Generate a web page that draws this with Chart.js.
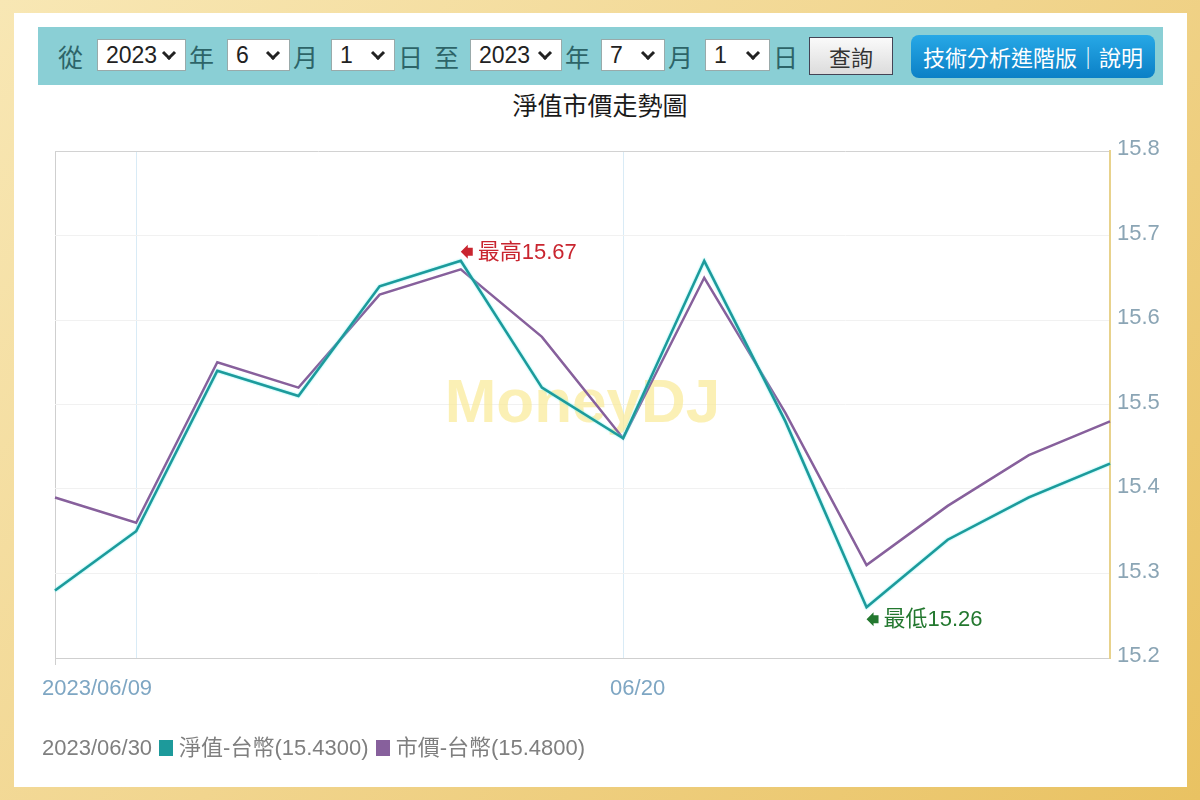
<!DOCTYPE html>
<html>
<head>
<meta charset="utf-8">
<script src="https://cdn.jsdelivr.net/npm/chart.js@4.4.0/dist/chart.umd.min.js"></script>
<style>
  html, body { margin: 0; padding: 0; }
  body {
    width: 1200px; height: 800px; position: relative; overflow: hidden;
    background: linear-gradient(135deg, #f8e7b4 0%, #f1d58e 50%, #e9c262 100%);
    font-family: 'Liberation Sans', Arial, 'Noto Sans CJK TC', sans-serif;
  }
  .page { position: absolute; left: 14px; top: 13px; width: 1173px; height: 774px; background: #fff; }
  .bar { position: absolute; left: 38px; top: 27px; width: 1125px; height: 58px; background: #8acfd5; }
  .lbl { position: absolute; top: 41px; font-size: 25px; line-height: 30px; color: #2d6468;
         font-family: 'Noto Sans CJK TC', sans-serif; }
  .sel { position: absolute; top: 39px; height: 32px; background: #fff; border: 1px solid #9aa; box-sizing: border-box;
         font-size: 23px; line-height: 31px; color: #222; padding-left: 8px; }
  .sel i { position: absolute; right: 11px; top: 8px; width: 7px; height: 7px; border-right: 3px solid #222;
           border-bottom: 3px solid #222; transform: rotate(45deg); }
  .btn { position: absolute; left: 809px; top: 37px; width: 84px; height: 38px; box-sizing: border-box;
         border: 1px solid #445; background: linear-gradient(#fafafa, #dcdcdc); text-align: center;
         font: 22px/36px 'Noto Sans CJK TC', sans-serif; color: #333; }
  .blue { position: absolute; left: 911px; top: 35px; width: 244px; height: 43px; border-radius: 8px;
          background: linear-gradient(#27a8e6, #0b80c6); color: #fff; text-align: center;
          font: 22px/43px 'Noto Sans CJK TC', sans-serif; }
  .title { position: absolute; left: 0; width: 1200px; top: 86px; text-align: center; font-size: 25px; color: #1a1a1a;
           font-family: 'Noto Sans CJK TC', sans-serif; font-weight: 400; }
  .legend { position: absolute; left: 42px; top: 729px; font-size: 22px; color: #7f7f7f; white-space: nowrap;
            font-family: 'Liberation Sans', Arial, 'Noto Sans CJK TC', sans-serif; }
  .legend b { display: inline-block; width: 14px; height: 16px; margin: 0 6px 0 7px; vertical-align: -1px; }
  .wrap { position: absolute; left: 0; top: 0; width: 1200px; height: 800px; }
</style>
</head>
<body>
<div class="page"></div>
<div class="bar"></div>
<div class="lbl" style="left:58px">從</div>
<div class="sel" style="left:97px;width:89px">2023<i></i></div>
<div class="lbl" style="left:189px">年</div>
<div class="sel" style="left:227px;width:63px">6<i></i></div>
<div class="lbl" style="left:293px">月</div>
<div class="sel" style="left:331px;width:64px">1<i></i></div>
<div class="lbl" style="left:398px">日</div>
<div class="lbl" style="left:434px">至</div>
<div class="sel" style="left:470px;width:92px">2023<i></i></div>
<div class="lbl" style="left:565px">年</div>
<div class="sel" style="left:601px;width:64px">7<i></i></div>
<div class="lbl" style="left:668px">月</div>
<div class="sel" style="left:705px;width:65px">1<i></i></div>
<div class="lbl" style="left:773px">日</div>
<div class="btn">查詢</div>
<div class="blue">技術分析進階版｜說明</div>
<div class="title">淨值市價走勢圖</div>
<div class="wrap"><canvas id="chart"></canvas></div>
<div class="legend" id="legend"></div>

<script>
const dates = ['2023/06/09', '06/12', '06/13', '06/14', '06/15', '06/16', '06/19',
               '06/20', '06/21', '06/26', '06/27', '06/28', '06/29', '2023/06/30'];
const shownTicks = { 0: '2023/06/09', 7: '06/20' };
const nav = [15.28, 15.35, 15.54, 15.51, 15.64, 15.67, 15.52, 15.46, 15.67, 15.48, 15.26, 15.34, 15.39, 15.43];
const market = [15.39, 15.36, 15.55, 15.52, 15.63, 15.66, 15.58, 15.46, 15.65, 15.49, 15.31, 15.38, 15.44, 15.48];
const yTicks = [15.2, 15.3, 15.4, 15.5, 15.6, 15.7, 15.8];

const navColor = '#1d9a9b';
const mktColor = '#87609c';
const fontFamily = "'Liberation Sans', Arial, 'Noto Sans CJK TC', sans-serif";

// legend line under the chart
const last = dates.length - 1;
document.getElementById('legend').innerHTML =
  dates[last] + '<b style="background:' + navColor + '"></b>淨值-台幣(' + nav[last].toFixed(4) + ')' +
  '<b style="background:' + mktColor + '"></b>市價-台幣(' + market[last].toFixed(4) + ')';

// watermark, glow on the NAV line, high/low marks
const extras = {
  id: 'extras',
  beforeDatasetsDraw(chart) {
    const { ctx, chartArea: a } = chart;
    ctx.save();
    ctx.font = 'bold 62px ' + fontFamily;
    ctx.fillStyle = 'rgba(250, 234, 150, 0.7)';
    ctx.textAlign = 'center';
    ctx.textBaseline = 'middle';
    ctx.fillText('MoneyDJ', (a.left + a.right) / 2, (a.top + a.bottom) / 2);
    ctx.restore();
  },
  beforeDatasetDraw(chart, args) {
    chart.ctx.save();
    if (args.index === 0) {
      chart.ctx.shadowColor = 'rgba(90, 235, 235, 0.9)';
      chart.ctx.shadowBlur = 2;
    }
  },
  afterDatasetDraw(chart) {
    chart.ctx.restore();
  },
  afterDatasetsDraw(chart) {
    const { ctx, scales } = chart;
    const hi = nav.indexOf(Math.max(...nav));
    const lo = nav.indexOf(Math.min(...nav));
    const mark = (i, dy, color, label) => {
      const x = scales.x.getPixelForValue(i);
      const y = scales.y.getPixelForValue(nav[i]) + dy;
      ctx.save();
      ctx.fillStyle = color;
      ctx.beginPath();
      ctx.moveTo(x, y);
      ctx.lineTo(x + 7, y - 7);
      ctx.lineTo(x + 7, y - 4);
      ctx.lineTo(x + 12, y - 4);
      ctx.lineTo(x + 12, y + 4);
      ctx.lineTo(x + 7, y + 4);
      ctx.lineTo(x + 7, y + 7);
      ctx.closePath();
      ctx.fill();
      ctx.font = '22px ' + fontFamily;
      ctx.textBaseline = 'middle';
      ctx.fillText(label + nav[i].toFixed(2), x + 17, y + 1);
      ctx.restore();
    };
    mark(hi, -9, '#c9252f', '最高');
    mark(lo, 12, '#23782f', '最低');
  }
};

new Chart(document.getElementById('chart'), {
  type: 'line',
  data: {
    labels: dates,
    datasets: [
      { label: '淨值-台幣', data: nav, borderColor: navColor, borderWidth: 2.5, pointRadius: 0, tension: 0 },
      { label: '市價-台幣', data: market, borderColor: mktColor, borderWidth: 2.5, pointRadius: 0, tension: 0 }
    ]
  },
  options: {
    responsive: true,
    maintainAspectRatio: false,
    animation: false,
    layout: { padding: { left: 55, top: 151, right: 0, bottom: 0 } },
    plugins: { legend: { display: false }, tooltip: { enabled: false } },
    scales: {
      x: {
        offset: false,
        afterFit: s => { s.height = 142; },
        border: { color: '#cfcfcf', width: 1 },
        grid: {
          color: c => c.index === 0 ? '#cfcfcf' : (c.index === 1 || c.index === 7 ? '#d9ebf6' : 'transparent'),
          tickColor: c => c.index === 0 ? '#cfcfcf' : 'transparent',
          tickLength: 7
        },
        ticks: {
          autoSkip: false, maxRotation: 0, align: 'start', labelOffset: -13, padding: 11,
          color: '#7ea6c3', font: { size: 22, family: fontFamily },
          callback: (v, i) => shownTicks[i] || ''
        }
      },
      y: {
        position: 'right',
        min: 15.2,
        max: 15.8,
        afterFit: s => { s.width = 90; },
        afterBuildTicks: s => { s.ticks = yTicks.map(v => ({ value: v })); },
        border: { color: '#e8d28c', width: 2 },
        grid: {
          drawTicks: false,
          color: c => c.tick.value >= 15.79 ? '#d2d2d2' : (c.tick.value <= 15.21 ? 'transparent' : '#f1f1f1')
        },
        ticks: {
          padding: 7, labelOffset: -2, color: '#8ba5b5', font: { size: 22, family: fontFamily },
          callback: v => v.toFixed(1)
        }
      }
    }
  },
  plugins: [extras]
});
</script>
</body>
</html>
